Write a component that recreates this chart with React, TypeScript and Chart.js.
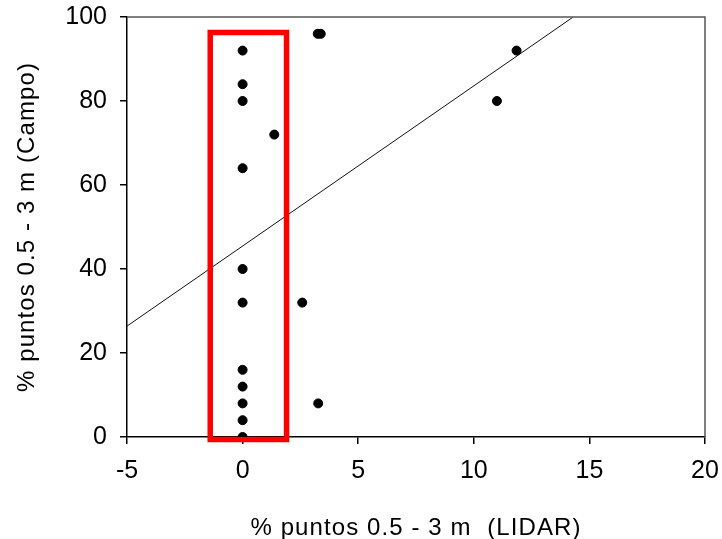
import React, { useEffect, useRef } from "react";
import { Chart, registerables } from "chart.js";

Chart.register(...registerables);

// Field vs LIDAR (% points 0.5 - 3 m)
const lidarX = [0, 0, 0, 0, 0, 0, 0, 0, 0, 0, 0, 3.25, 3.38, 11.85, 11.0, 1.37, 2.58, 3.27];
const campoY = [92, 84, 80, 64, 40, 32, 16, 12, 8, 4, 0, 96, 96, 92, 80, 72, 32, 8];

// regression line endpoints
const fitX = [-5, 14.3];
const fitY = [26.4, 100];

// highlight rectangle corners
const boxX = [-1.4, 1.9, 1.9, -1.4, -1.4];
const boxY = [96.3, 96.3, -0.6, -0.6, 96.3];

const xTicks = [-5, 0, 5, 10, 15, 20];
const yTicks = [0, 20, 40, 60, 80, 100];

const xTitle = "% puntos 0.5 - 3 m  (LIDAR)";
const yTitle = "% puntos 0.5 - 3 m (Campo)";

const FONT = "'Liberation Sans', Arial, sans-serif";

const framePlugin = {
  id: "frame",
  afterDatasetsDraw(chart: any) {
    const { ctx, chartArea } = chart;
    ctx.save();
    ctx.strokeStyle = "#555";
    ctx.lineWidth = 1.5;
    ctx.beginPath();
    ctx.moveTo(chartArea.left, chartArea.top);
    ctx.lineTo(chartArea.right, chartArea.top);
    ctx.lineTo(chartArea.right, chartArea.bottom);
    ctx.stroke();
    ctx.restore();
  },
  afterDraw(chart: any) {
    const { ctx, chartArea } = chart;
    ctx.save();
    ctx.fillStyle = "#000";
    ctx.font = `24px ${FONT}`;
    (ctx as any).letterSpacing = "1.1px";
    ctx.textAlign = "center";
    ctx.textBaseline = "alphabetic";
    const cx = (chartArea.left + chartArea.right) / 2;
    ctx.fillText(xTitle, cx, 535);
    const cy = (chartArea.top + chartArea.bottom) / 2;
    ctx.translate(34, cy);
    ctx.rotate(-Math.PI / 2);
    ctx.fillText(yTitle, 0, 0);
    ctx.restore();
  },
};

export default function App() {
  const ref = useRef<HTMLCanvasElement>(null);
  useEffect(() => {
    if (!ref.current) return;
    const pts = lidarX.map((x, i) => ({ x, y: campoY[i] }));
    const fit = fitX.map((x, i) => ({ x, y: fitY[i] }));
    const box = boxX.map((x, i) => ({ x, y: boxY[i] }));
    const chart = new Chart(ref.current, {
      type: "scatter",
      data: {
        datasets: [
          {
            data: pts,
            backgroundColor: "#000",
            borderColor: "#000",
            pointRadius: 4.5,
            pointHoverRadius: 4.5,
            order: 0,
          },
          {
            data: box,
            showLine: true,
            borderColor: "#ff0000",
            borderWidth: 5.5,
            pointRadius: 0,
            borderJoinStyle: "miter",
            borderCapStyle: "square",
            clip: false as any,
            order: 1,
          },
          {
            data: fit,
            showLine: true,
            borderColor: "#111",
            borderWidth: 1,
            pointRadius: 0,
            order: 2,
          },
        ],
      },
      options: {
        responsive: false,
        animation: false,
        events: [],
        layout: { padding: { top: 17, right: 17, left: 0, bottom: 0 } },
        plugins: { legend: { display: false }, tooltip: { enabled: false } },
        scales: {
          x: {
            type: "linear",
            min: -5,
            max: 20,
            afterBuildTicks: (s: any) => {
              s.ticks = xTicks.map((v) => ({ value: v }));
            },
            afterFit: (s: any) => {
              s.height = 102;
              s.paddingLeft = 0;
              s.paddingRight = 0;
            },
            ticks: {
              color: "#000",
              font: { family: FONT, size: 25 },
              padding: 12,
              maxRotation: 0,
            },
            grid: {
              drawOnChartArea: false,
              drawTicks: true,
              tickLength: 7,
              color: "#000",
              lineWidth: 1.5,
            },
            border: { color: "#000", width: 1.5 },
          },
          y: {
            type: "linear",
            min: 0,
            max: 100,
            afterBuildTicks: (s: any) => {
              s.ticks = yTicks.map((v) => ({ value: v }));
            },
            afterFit: (s: any) => {
              s.width = 127;
              s.paddingTop = 0;
              s.paddingBottom = 0;
            },
            ticks: {
              color: "#000",
              font: { family: FONT, size: 25 },
              padding: 13,
            },
            grid: {
              drawOnChartArea: false,
              drawTicks: true,
              tickLength: 7,
              color: "#000",
              lineWidth: 1.5,
            },
            border: { color: "#000", width: 1.5 },
          },
        },
      },
      plugins: [framePlugin],
    });
    return () => chart.destroy();
  }, []);
  return (
    <div style={{ position: "fixed", left: 0, top: 0, width: 722, height: 539, background: "#fff" }}>
      <canvas ref={ref} width={722} height={539} style={{ display: "block" }} />
    </div>
  );
}
